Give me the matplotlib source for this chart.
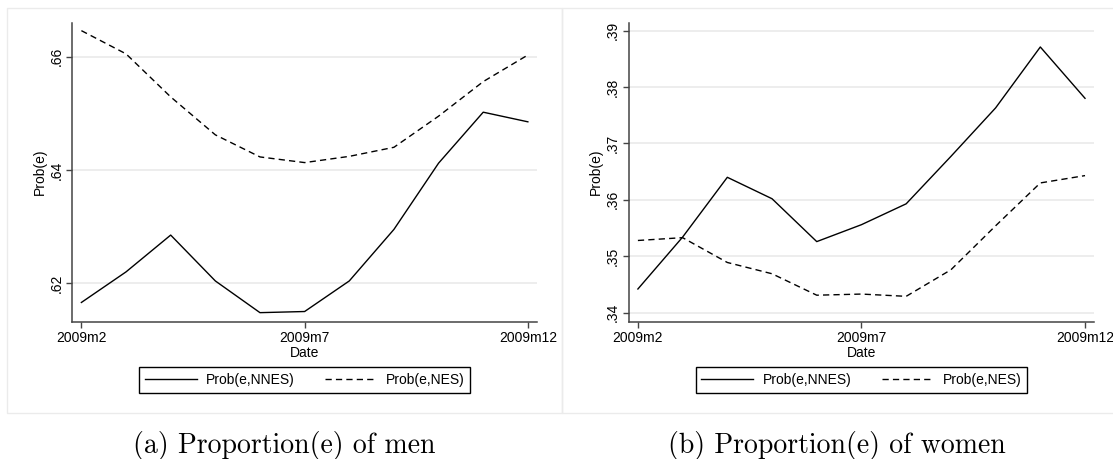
import matplotlib.pyplot as plt
from matplotlib.patches import Rectangle

plt.rcParams['font.family'] = ['Liberation Sans', 'DejaVu Sans']
plt.rcParams['lines.scale_dashes'] = False

# months 2009m2 .. 2009m12
months = [2, 3, 4, 5, 6, 7, 8, 9, 10, 11, 12]
xtick_pos = [2, 7, 12]
xtick_labels = ['2009m2', '2009m7', '2009m12']

# (a) men
men_nnes = [0.6166, 0.6220, 0.6285, 0.6204, 0.6148, 0.6150, 0.6204, 0.6295, 0.6412, 0.6502, 0.6485]
men_nes = [0.6646, 0.6605, 0.6529, 0.6462, 0.6423, 0.6413, 0.6424, 0.6440, 0.6495, 0.6556, 0.6603]
men_yticks = [0.62, 0.64, 0.66]
men_ylabels = ['.62', '.64', '.66']

# (b) women
women_nnes = [0.3442, 0.3534, 0.3640, 0.3602, 0.3526, 0.3556, 0.3593, 0.3677, 0.3763, 0.3871, 0.3780]
women_nes = [0.3528, 0.3533, 0.3489, 0.3469, 0.3431, 0.3433, 0.3429, 0.3476, 0.3554, 0.3630, 0.3643]
women_yticks = [0.34, 0.35, 0.36, 0.37, 0.38, 0.39]
women_ylabels = ['.34', '.35', '.36', '.37', '.38', '.39']

captions = ['(a) Proportion(e) of men', '(b) Proportion(e) of women']


def panel(ax, nnes, nes, yticks, ylabels, ylim):
    ax.plot(months, nnes, color='black', lw=1.0, label='Prob(e,NNES)')
    ax.plot(months, nes, color='black', lw=1.0, dashes=(4.5, 3), label='Prob(e,NES)')
    ax.set_xlim(1.8, 12.2)
    ax.set_ylim(*ylim)
    ax.set_xticks(xtick_pos, xtick_labels)
    ax.set_yticks(yticks, ylabels, rotation=90, va='center')
    ax.yaxis.grid(True, color='#eaeaea', lw=1.2)
    ax.set_axisbelow(True)
    for s in ['top', 'right']:
        ax.spines[s].set_visible(False)
    for s in ['left', 'bottom']:
        ax.spines[s].set_color('#444444')
        ax.spines[s].set_linewidth(1.1)
    ax.tick_params(length=4.5, width=1, color='#444444', labelsize=10, pad=2)
    ax.set_xlabel('Date', fontsize=10, labelpad=1)
    ax.set_ylabel('Prob(e)', fontsize=10, labelpad=2)
    leg = ax.legend(loc='center', bbox_to_anchor=(0.5, -0.195), ncol=2, fontsize=10,
                    frameon=True, fancybox=False, edgecolor='black', framealpha=1,
                    handlelength=3.74, handletextpad=0.65, columnspacing=2.2, borderpad=0.4)
    leg.get_frame().set_linewidth(1.0)


fig = plt.figure(figsize=(11.13, 4.59), dpi=100)

# light grey frames around each graph
fig.add_artist(Rectangle((0.006, 0.1009), 0.499, 0.881, transform=fig.transFigure,
                         fill=False, edgecolor='#ebebeb', lw=1))
fig.add_artist(Rectangle((0.505, 0.1009), 0.51, 0.881, transform=fig.transFigure,
                         fill=False, edgecolor='#ebebeb', lw=1))

ax1 = fig.add_axes([0.0651, 0.2991, 0.4172, 0.6514])
panel(ax1, men_nnes, men_nes, men_yticks, men_ylabels, (0.6132, 0.666))

ax2 = fig.add_axes([0.5651, 0.2991, 0.4178, 0.6514])
panel(ax2, women_nnes, women_nes, women_yticks, women_ylabels, (0.3384, 0.3914))

fig.text(0.2552, 0.0124, captions[0], family='cmr10', fontsize=20, ha='center', va='baseline')
fig.text(0.752, 0.0124, captions[1], family='cmr10', fontsize=20, ha='center', va='baseline')

fig.savefig('out.png', dpi=100)
